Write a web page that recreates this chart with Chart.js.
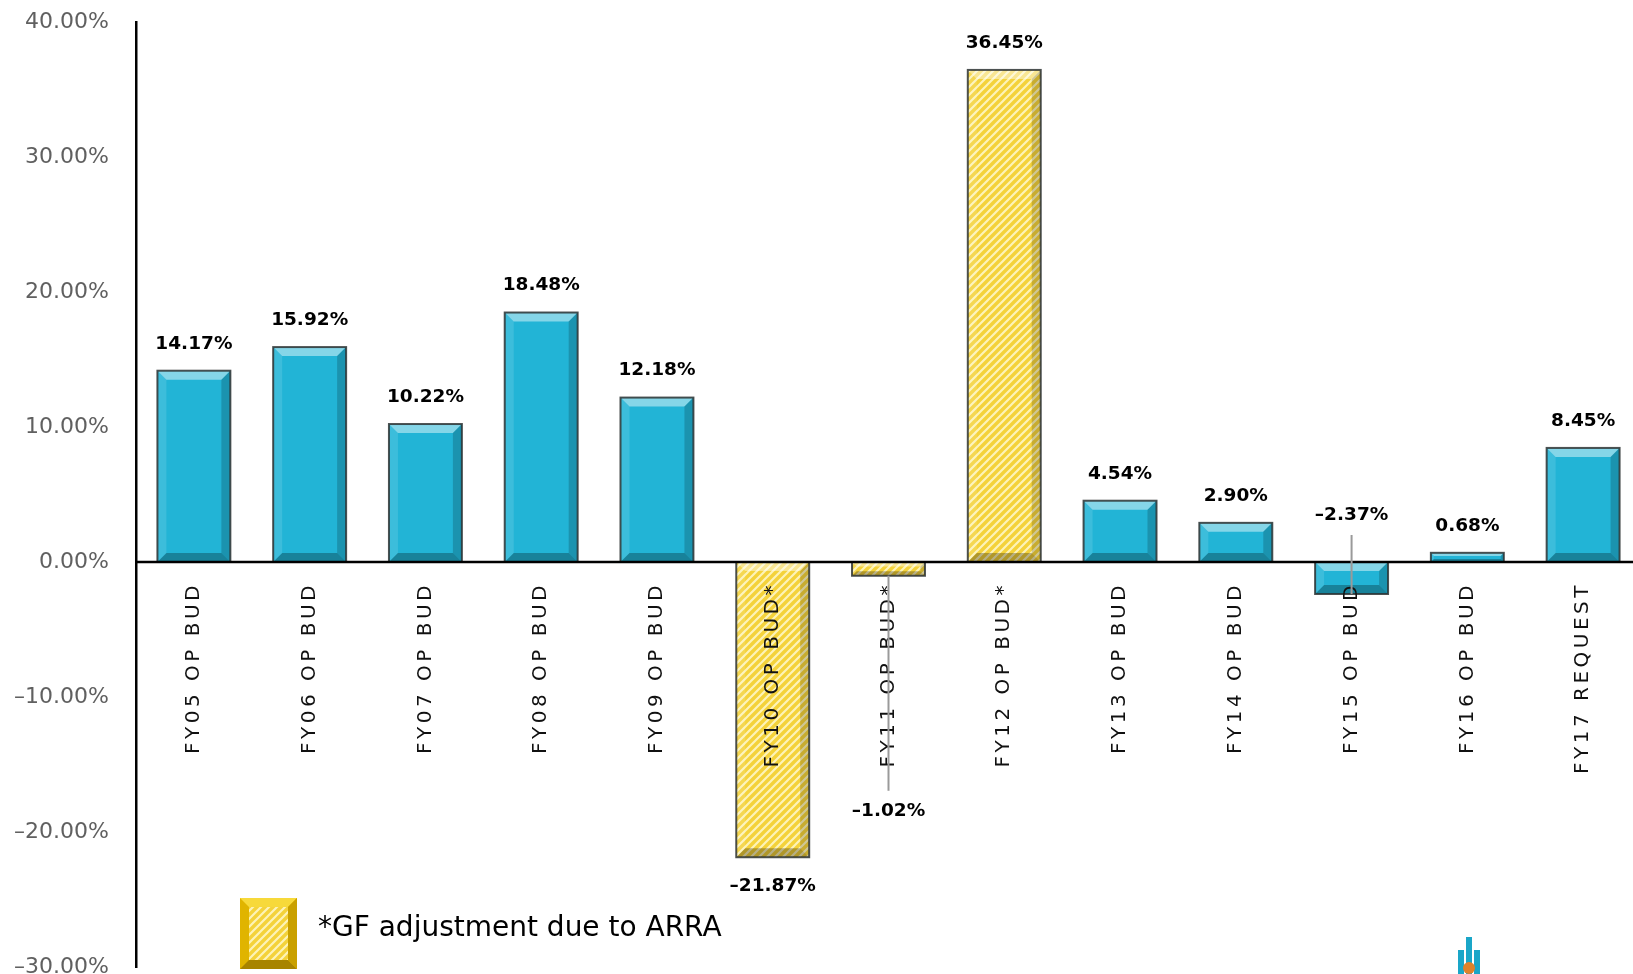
<!DOCTYPE html>
<html>
<head>
<meta charset="utf-8">
<script src="https://cdn.jsdelivr.net/npm/chart.js@4/dist/chart.umd.min.js"></script>
<style>
  html, body { margin: 0; padding: 0; background: #fff; }
  #wrap { width: 1633px; height: 974px; }
</style>
</head>
<body>
<div id="wrap"><canvas id="growthChart" width="1633" height="974"></canvas></div>
<script>
// categories and values
const categories = ['FY05 OP BUD', 'FY06 OP BUD', 'FY07 OP BUD', 'FY08 OP BUD', 'FY09 OP BUD',
  'FY10 OP BUD*', 'FY11 OP BUD*', 'FY12 OP BUD*', 'FY13 OP BUD', 'FY14 OP BUD',
  'FY15 OP BUD', 'FY16 OP BUD', 'FY17 REQUEST'];
const growth = [14.17, 15.92, 10.22, 18.48, 12.18, -21.87, -1.02, 36.45, 4.54, 2.90, -2.37, 0.68, 8.45];
const arraAdjusted = [false, false, false, false, false, true, true, true, false, false, false, false, false];
const yMin = -30;
const yMax = 40;
const yStep = 10;
const legendText = '*GF adjustment due to ARRA';

const FONT = '"DejaVu Sans", Verdana, sans-serif';
const TEAL = '#22b4d6';

function fmtPct(v) {
  const s = Math.abs(v).toFixed(2) + '%';
  return v < 0 ? '\u2013' + s : s;
}

// yellow hatch used for ARRA years
function makeHatch() {
  const c = document.createElement('canvas');
  c.width = 8; c.height = 8;
  const g = c.getContext('2d');
  g.fillStyle = '#f4d23a';
  g.fillRect(0, 0, 8, 8);
  g.strokeStyle = '#fdf3b8';
  g.lineWidth = 2.2;
  g.beginPath();
  g.moveTo(-2, 10); g.lineTo(10, -2);
  g.moveTo(-6, 6); g.lineTo(6, -6);
  g.moveTo(2, 14); g.lineTo(14, 2);
  g.stroke();
  return g.createPattern(c, 'repeat');
}
const hatch = makeHatch();

// bevel box like the old office charts
function bevelBox(ctx, l, t, r, b, edge) {
  const h = b - t;
  const e = Math.min(edge, h / 3, (r - l) / 3);
  if (e > 1) {
    const band = (pts, fill) => {
      ctx.beginPath();
      ctx.moveTo(pts[0][0], pts[0][1]);
      for (let i = 1; i < pts.length; i++) ctx.lineTo(pts[i][0], pts[i][1]);
      ctx.closePath();
      ctx.fillStyle = fill;
      ctx.fill();
    };
    band([[l, t], [r, t], [r - e, t + e], [l + e, t + e]], 'rgba(255,255,255,0.45)');
    band([[l, t], [l + e, t + e], [l + e, b - e], [l, b]], 'rgba(255,255,255,0.12)');
    band([[r, t], [r, b], [r - e, b - e], [r - e, t + e]], 'rgba(0,0,0,0.18)');
    band([[l, b], [l + e, b - e], [r - e, b - e], [r, b]], 'rgba(0,0,0,0.28)');
  }
  ctx.strokeStyle = 'rgba(45,50,50,0.85)';
  ctx.lineWidth = 2;
  ctx.strokeRect(l, t, r - l, h);
}

const labelMoves = {
  6: { below: 235, leader: true },   // FY11 label pushed under the category text
  10: { above: true, leader: true }  // FY15 label sits above the zero line
};

// the original plot runs a little past the right edge of the picture
const widenX = {
  id: 'widenX',
  afterLayout(chart) {
    const x = chart.scales.x;
    x.right = x.left + 1505;
    x.width = 1505;
    x.configure();
  }
};

const overlay = {
  id: 'overlay',
  afterDatasetsDraw(chart) {
    const ctx = chart.ctx;
    const area = chart.chartArea;
    const y = chart.scales.y;
    const zeroY = y.getPixelForValue(0);
    const meta = chart.getDatasetMeta(0);
    ctx.save();

    meta.data.forEach((bar) => {
      const l = bar.x - bar.width / 2, r = bar.x + bar.width / 2;
      const t = Math.min(bar.y, bar.base), b = Math.max(bar.y, bar.base);
      bevelBox(ctx, l, t, r, b, 9);
    });

    // category names, written upward just under the zero line
    ctx.fillStyle = '#111';
    ctx.font = '20px ' + FONT;
    ctx.letterSpacing = '3.5px';
    ctx.textAlign = 'right';
    ctx.textBaseline = 'middle';
    meta.data.forEach((bar, i) => {
      ctx.save();
      ctx.translate(bar.x, zeroY + 20);
      ctx.rotate(-Math.PI / 2);
      ctx.fillText(categories[i], 0, 0);
      ctx.restore();
    });
    ctx.letterSpacing = '0px';

    // zero line
    ctx.strokeStyle = '#000';
    ctx.lineWidth = 2.5;
    ctx.beginPath();
    ctx.moveTo(area.left, zeroY);
    ctx.lineTo(chart.width, zeroY);
    ctx.stroke();

    // value labels
    ctx.font = 'bold 18.5px ' + FONT;
    ctx.textAlign = 'center';
    ctx.fillStyle = '#000';
    meta.data.forEach((bar, i) => {
      const v = growth[i];
      const mv = labelMoves[i];
      let ly;
      if (mv && mv.above) ly = zeroY - 47;
      else if (mv && mv.below) ly = bar.y + mv.below;
      else ly = v >= 0 ? bar.y - 27 : bar.y + 29;
      if (mv && mv.leader) {
        ctx.strokeStyle = '#9a9a9a';
        ctx.lineWidth = 2;
        ctx.beginPath();
        if (mv.above) { ctx.moveTo(bar.x, ly + 20); ctx.lineTo(bar.x, bar.y); }
        else { ctx.moveTo(bar.x, bar.y); ctx.lineTo(bar.x, ly - 20); }
        ctx.stroke();
      }
      ctx.fillText(fmtPct(v), bar.x, ly);
    });

    // legend for the hatched bars
    const lx = 240, ly0 = 898, lw = 57, lh = 71, e = 9;
    ctx.fillStyle = '#e0b400';
    ctx.fillRect(lx, ly0, lw, lh);
    ctx.fillStyle = '#f7d93a';
    ctx.beginPath(); ctx.moveTo(lx, ly0); ctx.lineTo(lx + lw, ly0); ctx.lineTo(lx + lw - e, ly0 + e); ctx.lineTo(lx + e, ly0 + e); ctx.closePath(); ctx.fill();
    ctx.fillStyle = '#a88400';
    ctx.beginPath(); ctx.moveTo(lx, ly0 + lh); ctx.lineTo(lx + lw, ly0 + lh); ctx.lineTo(lx + lw - e, ly0 + lh - e); ctx.lineTo(lx + e, ly0 + lh - e); ctx.closePath(); ctx.fill();
    ctx.fillStyle = '#c9a000';
    ctx.beginPath(); ctx.moveTo(lx + lw, ly0); ctx.lineTo(lx + lw, ly0 + lh); ctx.lineTo(lx + lw - e, ly0 + lh - e); ctx.lineTo(lx + lw - e, ly0 + e); ctx.closePath(); ctx.fill();
    ctx.fillStyle = hatch;
    ctx.fillRect(lx + e, ly0 + e, lw - 2 * e, lh - 2 * e);
    ctx.fillStyle = '#000';
    ctx.font = '28px ' + FONT;
    ctx.textAlign = 'left';
    ctx.fillText(legendText, 318, 929);

    // small logo bottom right
    ctx.fillStyle = '#1aa6c8';
    ctx.fillRect(1458, 950, 6, 24);
    ctx.fillRect(1466, 937, 6, 37);
    ctx.fillRect(1474, 950, 6, 24);
    ctx.fillStyle = '#e0822a';
    ctx.beginPath(); ctx.arc(1469, 968, 6, 0, Math.PI * 2); ctx.fill();

    ctx.restore();
  }
};

const ctx = document.getElementById('growthChart').getContext('2d');
new Chart(ctx, {
  type: 'bar',
  data: {
    labels: categories,
    datasets: [{
      data: growth,
      backgroundColor: growth.map((v, i) => arraAdjusted[i] ? hatch : TEAL),
      borderWidth: 0,
      barPercentage: 0.63,
      categoryPercentage: 1,
      clip: false
    }]
  },
  options: {
    responsive: false,
    animation: false,
    layout: { padding: { top: 22, right: 0, bottom: 7, left: 0 } },
    plugins: {
      legend: { display: false },
      tooltip: { enabled: false }
    },
    scales: {
      x: { display: false },
      y: {
        min: yMin,
        max: yMax,
        ticks: {
          stepSize: yStep,
          padding: 27,
          color: '#606060',
          font: { family: FONT, size: 22 },
          callback: (v) => fmtPct(v)
        },
        grid: { display: false, drawTicks: false },
        border: { display: true, color: '#000', width: 2.5 },
        afterFit: (s) => { s.width = 136; s.paddingTop = 0; s.paddingBottom = 0; }
      }
    }
  },
  plugins: [widenX, overlay]
});
</script>
</body>
</html>
